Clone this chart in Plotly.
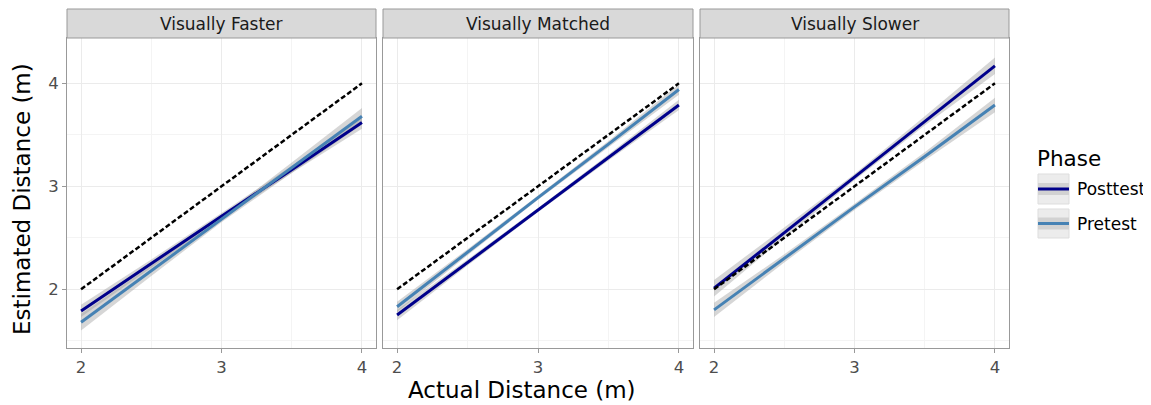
import plotly.graph_objects as go

# page body has an 8px margin, so the figure is sized to the visible area
OFF = 8
W, H = 1151 - OFF, 405 - OFF

panels = ["Visually Faster", "Visually Matched", "Visually Slower"]
phases = ["Posttest", "Pretest"]
phase_colors = {"Posttest": "#00008B", "Pretest": "#4682B4"}

x_vals = [2, 2.5, 3, 3.5, 4]

# Visually Faster
faster_post_fit = [1.79, 2.25, 2.71, 3.16, 3.62]
faster_post_lo = [1.73, 2.21, 2.68, 3.13, 3.56]
faster_post_hi = [1.85, 2.29, 2.74, 3.20, 3.68]
faster_pre_fit = [1.68, 2.18, 2.68, 3.18, 3.68]
faster_pre_lo = [1.60, 2.13, 2.65, 3.13, 3.60]
faster_pre_hi = [1.76, 2.23, 2.71, 3.23, 3.76]
# Visually Matched
matched_post_fit = [1.75, 2.26, 2.77, 3.28, 3.79]
matched_post_lo = [1.70, 2.23, 2.75, 3.25, 3.74]
matched_post_hi = [1.80, 2.29, 2.79, 3.31, 3.84]
matched_pre_fit = [1.83, 2.36, 2.89, 3.41, 3.94]
matched_pre_lo = [1.78, 2.33, 2.87, 3.38, 3.89]
matched_pre_hi = [1.88, 2.39, 2.91, 3.44, 3.99]
# Visually Slower
slower_post_fit = [2.01, 2.55, 3.09, 3.63, 4.17]
slower_post_lo = [1.93, 2.50, 3.06, 3.59, 4.09]
slower_post_hi = [2.09, 2.60, 3.12, 3.68, 4.25]
slower_pre_fit = [1.80, 2.30, 2.80, 3.29, 3.79]
slower_pre_lo = [1.73, 2.26, 2.77, 3.25, 3.72]
slower_pre_hi = [1.87, 2.34, 2.83, 3.33, 3.86]

ref_x = [2, 4]
ref_y = [2, 4]

x_ticks = [2, 3, 4]
y_ticks = [2, 3, 4]

data = {
    "Visually Faster": {
        "Posttest": (faster_post_fit, faster_post_lo, faster_post_hi),
        "Pretest": (faster_pre_fit, faster_pre_lo, faster_pre_hi),
    },
    "Visually Matched": {
        "Posttest": (matched_post_fit, matched_post_lo, matched_post_hi),
        "Pretest": (matched_pre_fit, matched_pre_lo, matched_pre_hi),
    },
    "Visually Slower": {
        "Posttest": (slower_post_fit, slower_post_lo, slower_post_hi),
        "Pretest": (slower_pre_fit, slower_pre_lo, slower_pre_hi),
    },
}

FONT = "DejaVu Sans"


def px_x(p):
    return (p - OFF) / W


def px_y(p):
    return 1 - (p - OFF) / H


panel_px = [(67, 376), (383, 693), (700, 1009)]
plot_top, plot_bot = 38, 348
strip_top = 9

fig = go.Figure()

for i, panel in enumerate(panels):
    xa = "x" if i == 0 else f"x{i+1}"
    ya = "y" if i == 0 else f"y{i+1}"
    for ph in phases:
        fit, lo, hi = data[panel][ph]
        fig.add_trace(go.Scatter(
            x=x_vals + x_vals[::-1], y=hi + lo[::-1], fill="toself",
            fillcolor="rgba(153,153,153,0.4)", line=dict(width=0),
            mode="lines", hoverinfo="skip", showlegend=False,
            xaxis=xa, yaxis=ya))
    for ph in phases:
        fit, lo, hi = data[panel][ph]
        fig.add_trace(go.Scatter(
            x=x_vals, y=fit, mode="lines", name=ph,
            line=dict(color=phase_colors[ph], width=3),
            showlegend=False, xaxis=xa, yaxis=ya))
    fig.add_trace(go.Scatter(
        x=ref_x, y=ref_y, mode="lines",
        line=dict(color="black", width=2.5, dash="5px,2.5px"),
        showlegend=False, xaxis=xa, yaxis=ya))

axis_common = dict(
    showgrid=True, gridcolor="#ebebeb", gridwidth=1,
    minor=dict(dtick=0.5, showgrid=True, gridcolor="#f4f4f4", gridwidth=0.6, ticklen=0),
    showline=True, mirror=True, linecolor="#999999", linewidth=1,
    zeroline=False,
    ticks="outside", ticklen=4, tickcolor="#999999",
    tickfont=dict(family=FONT, size=16.5, color="#4d4d4d"),
    automargin=False,
)

layout = dict(
    width=W, height=H,
    margin=dict(l=0, r=0, t=0, b=0),
    paper_bgcolor="white", plot_bgcolor="white",
    font=dict(family=FONT),
    showlegend=False,
)

for i, (l, r) in enumerate(panel_px):
    xk = "xaxis" if i == 0 else f"xaxis{i+1}"
    yk = "yaxis" if i == 0 else f"yaxis{i+1}"
    ya = "y" if i == 0 else f"y{i+1}"
    xa = "x" if i == 0 else f"x{i+1}"
    layout[xk] = dict(axis_common, domain=[px_x(l), px_x(r)], range=[1.9, 4.1],
                      tickvals=x_ticks, anchor=ya)
    layout[yk] = dict(axis_common, domain=[px_y(plot_bot), px_y(plot_top)],
                      range=[1.43, 4.44], tickvals=y_ticks, anchor=xa,
                      showticklabels=(i == 0),
                      ticks="outside" if i == 0 else "")

fig.update_layout(**layout)

shapes = []
annotations = []
for i, panel in enumerate(panels):
    l, r = panel_px[i]
    shapes.append(dict(type="rect", xref="paper", yref="paper",
                       x0=px_x(l), x1=px_x(r), y0=px_y(plot_top), y1=px_y(strip_top),
                       fillcolor="#d9d9d9", line=dict(color="#999999", width=1)))
    annotations.append(dict(text=panel, xref="paper", yref="paper",
                            x=px_x((l + r) / 2), y=px_y((strip_top + plot_top) / 2),
                            showarrow=False, xanchor="center", yanchor="middle",
                            font=dict(family=FONT, size=17, color="#1a1a1a")))

annotations.append(dict(text="Actual Distance (m)", xref="paper", yref="paper",
                        x=px_x(522), y=0, showarrow=False,
                        xanchor="center", yanchor="bottom",
                        font=dict(family=FONT, size=23, color="black")))
annotations.append(dict(text="Estimated Distance (m)", xref="paper", yref="paper",
                        x=px_x(22), y=px_y(199), showarrow=False, textangle=-90,
                        xanchor="center", yanchor="middle",
                        font=dict(family=FONT, size=23, color="black")))

annotations.append(dict(text="Phase", xref="paper", yref="paper",
                        x=px_x(1035), y=px_y(158), showarrow=False,
                        xanchor="left", yanchor="middle",
                        font=dict(family=FONT, size=21.5, color="black")))
key_boxes = [(174, 204), (209, 238)]
for ph, (t, b) in zip(phases, key_boxes):
    shapes.append(dict(type="rect", xref="paper", yref="paper",
                       x0=px_x(1038), x1=px_x(1069), y0=px_y(b), y1=px_y(t),
                       fillcolor="#ececec", line=dict(color="#dddddd", width=1)))
    mid = (t + b) / 2
    shapes.append(dict(type="rect", xref="paper", yref="paper",
                       x0=px_x(1038), x1=px_x(1069), y0=px_y(mid + 6), y1=px_y(mid - 6),
                       fillcolor="#d2d2d2", line=dict(width=0)))
    shapes.append(dict(type="line", xref="paper", yref="paper",
                       x0=px_x(1038), x1=px_x(1069), y0=px_y(mid), y1=px_y(mid),
                       line=dict(color=phase_colors[ph], width=3)))
    annotations.append(dict(text=ph, xref="paper", yref="paper",
                            x=px_x(1075), y=px_y(mid), showarrow=False,
                            xanchor="left", yanchor="middle",
                            font=dict(family=FONT, size=17, color="black")))

fig.update_layout(shapes=shapes, annotations=annotations)

fig.write_html("out.html")
